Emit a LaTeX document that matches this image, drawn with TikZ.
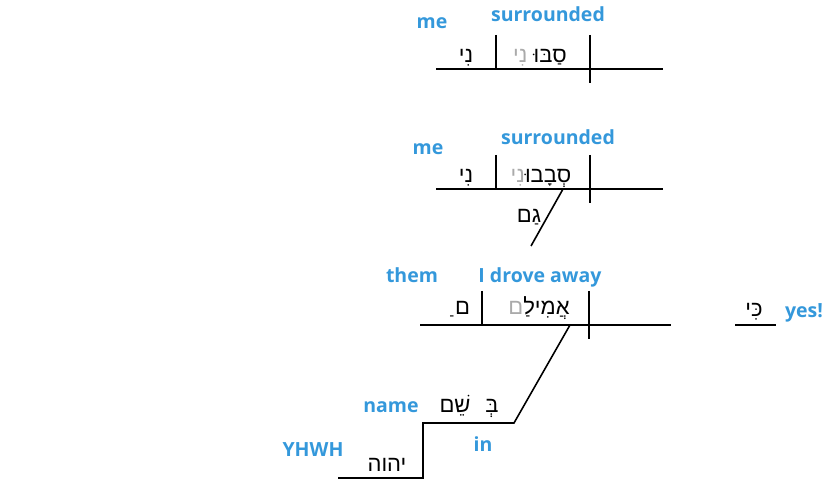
\documentclass[tikz,border=0pt]{standalone}
\usepackage{fontspec}
\usepackage{xcolor}
\definecolor{glossblue}{RGB}{52, 152, 219}
\definecolor{suffixgray}{RGB}{170, 170, 170}
\newfontfamily\glossfont{Open Sans}
\newfontfamily\hebfont[Script=Hebrew]{Liberation Sans}
\TeXXeTstate=1
\usepackage{tikz}

\begin{document}
\begin{tikzpicture}[x=1pt, y=-1pt,
    rule/.style={line width=1.6pt},
    gloss/.style={font=\glossfont\bfseries\fontsize{19.5}{22}\selectfont, text=glossblue, anchor=base, inner sep=0pt},
    heb/.style={font=\hebfont\fontsize{22}{25}\selectfont, anchor=base, inner sep=0pt}]
    \useasboundingbox (0,0) rectangle (825,486);

    % clause 1
    \coordinate (base1l) at (436,69);  \coordinate (base1r) at (663,69);
    \coordinate (obj1t)  at (496,35);  \coordinate (obj1b)  at (496,69);
    \coordinate (subj1t) at (590,35);  \coordinate (subj1b) at (590,83);
    \draw[rule] (base1l) -- (base1r);
    \draw[rule] (obj1t) -- (obj1b);
    \draw[rule] (subj1t) -- (subj1b);
    \node[heb] (obj1)  at (466,63) {\beginR נִי\endR};
    \node[heb] (verb1) at (540,63) {{\color{suffixgray}\beginR נִי\endR}\ \beginR סַבּוּ\endR};
    \node[gloss] (me1)  at (432,29) {me};
    \node[gloss] (sur1) at (548,22) {surrounded};

    % clause 2
    \coordinate (base2l) at (436,189); \coordinate (base2r) at (663,189);
    \coordinate (obj2t)  at (496,155); \coordinate (obj2b)  at (496,189);
    \coordinate (subj2t) at (590,155); \coordinate (subj2b) at (590,203);
    \coordinate (adv2t)  at (563,189); \coordinate (adv2b)  at (531,246);
    \draw[rule] (base2l) -- (base2r);
    \draw[rule] (obj2t) -- (obj2b);
    \draw[rule] (subj2t) -- (subj2b);
    \draw[rule] (adv2t) -- (adv2b);
    \node[heb] (obj2)  at (466,183) {\beginR נִי\endR};
    \node[heb] (verb2) at (541,183) {{\color{suffixgray}\beginR נִי\endR}\beginR סְבָבוּ\endR};
    \node[heb] (adv2)  at (529,223) {\beginR גַם\endR};
    \node[gloss] (me2)  at (428,155) {me};
    \node[gloss] (sur2) at (558,145) {surrounded};

    % clause 3
    \coordinate (base3l) at (420,325); \coordinate (base3r) at (671,325);
    \coordinate (obj3t)  at (482,291); \coordinate (obj3b)  at (482,325);
    \coordinate (subj3t) at (589,291); \coordinate (subj3b) at (589,339);
    \coordinate (prep3t) at (570,325); \coordinate (prep3b) at (514,423);
    \coordinate (name3l) at (423,423);
    \coordinate (gen3t)  at (423,478); \coordinate (gen3l)  at (338,478);
    \draw[rule] (base3l) -- (base3r);
    \draw[rule] (obj3t) -- (obj3b);
    \draw[rule] (subj3t) -- (subj3b);
    \draw[rule] (prep3t) -- (prep3b) -- (name3l) -- (gen3t) -- (gen3l);
    \node[heb] (obj3)  at (461,315) {\beginR ם\kern-3pt\char"00A0\char"05B7\endR};
    \node[heb] (verb3) at (539,315) {{\color{suffixgray}\beginR ם\endR}\beginR אֲמִילַ\endR};
    \node[heb] (prep3) at (492,413) {\beginR בְּ\endR};
    \node[heb] (noun3) at (455,413) {\beginR שֵׁם\endR};
    \node[heb] (gen3)  at (387,471) {\beginR יהוה\endR};
    \node[gloss] (them3)  at (412,283) {them};
    \node[gloss] (drove3) at (540,283) {I drove away};
    \node[gloss] (name3)  at (391,412) {name};
    \node[gloss] (in3)    at (483,451) {in};
    \node[gloss] (yhwh3)  at (313,456) {YHWH};

    % particle
    \coordinate (ki_l) at (735,325); \coordinate (ki_r) at (776,325);
    \draw[rule] (ki_l) -- (ki_r);
    \node[heb] (ki)  at (754,317) {\beginR כִּי\endR};
    \node[gloss] (yes) at (804,318) {yes!};
\end{tikzpicture}
\end{document}
